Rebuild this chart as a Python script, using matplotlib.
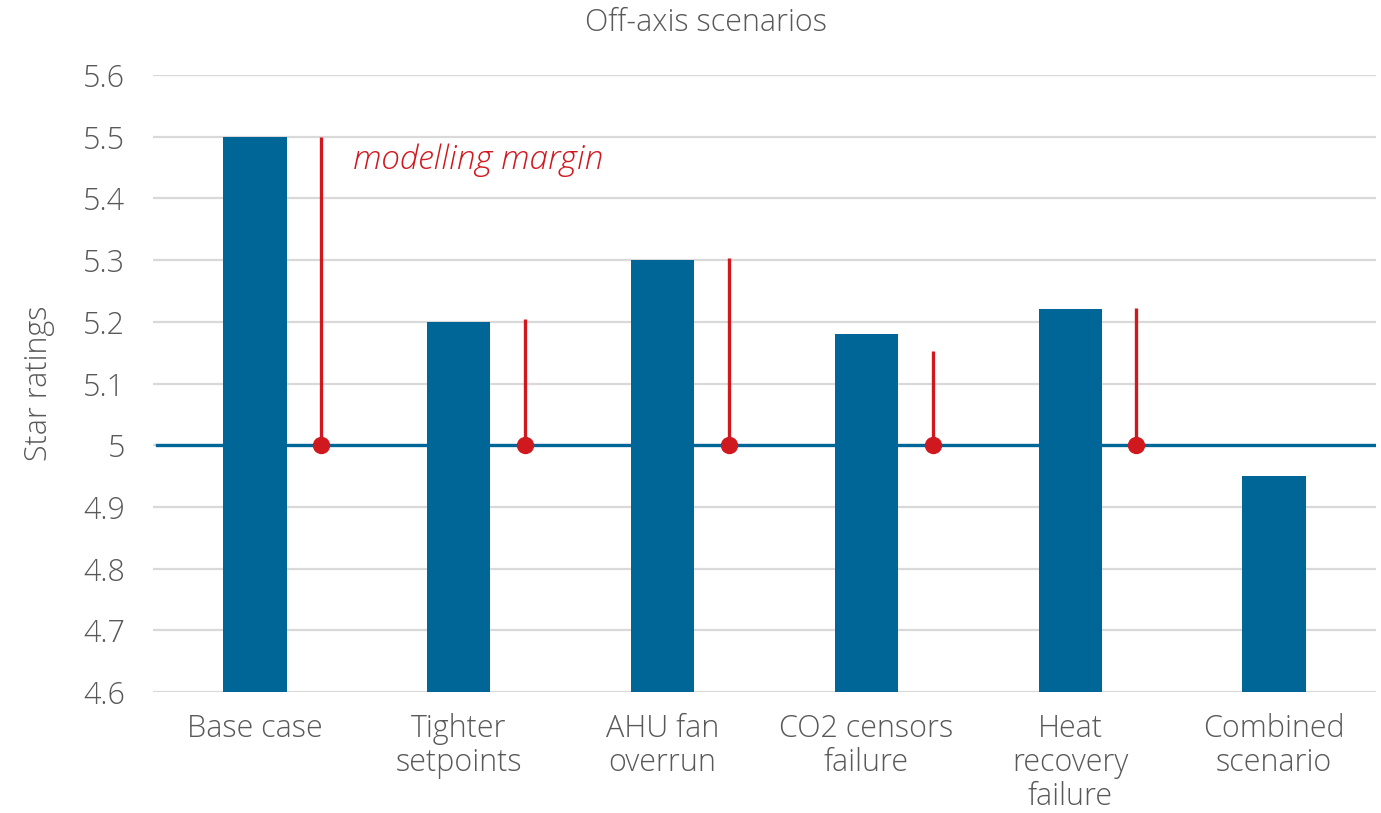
import matplotlib.pyplot as plt
import numpy as np

# Star rating per scenario
categories = ["Base case", "Tighter\nsetpoints", "AHU fan\noverrun", "CO2 censors\nfailure",
              "Heat\nrecovery\nfailure", "Combined\nscenario"]
ratings = [5.5, 5.2, 5.3, 5.18, 5.22, 4.95]
# top of the red "modelling margin" line (none for combined scenario)
margin_tops = [5.5, 5.205, 5.303, 5.152, 5.222]
reference = 5.0
yticks = [4.6, 4.7, 4.8, 4.9, 5.0, 5.1, 5.2, 5.3, 5.4, 5.5, 5.6]
ytick_labels = ["4.6", "4.7", "4.8", "4.9", "5", "5.1", "5.2", "5.3", "5.4", "5.5", "5.6"]

BLUE = "#006597"
RED = "#d0191f"
GREY = "#595959"
FS = 22

plt.rcParams['font.family'] = ['Open Sans', 'DejaVu Sans']
plt.rcParams['font.weight'] = 'light'
plt.rcParams['axes.labelweight'] = 'light'

fig = plt.figure(figsize=(13.81, 8.13), dpi=100)
ax = fig.add_axes([153/1381, 121/813, 1223/1381, 617/813])

x = np.arange(len(categories))
ax.bar(x, np.array(ratings) - 4.6, bottom=4.6, width=0.31, color=BLUE, zorder=3)

ax.axhline(reference, xmin=0.003, xmax=1, color=BLUE, lw=2.4, zorder=4)

mx = np.arange(len(margin_tops)) + 0.325
ax.vlines(mx, reference, margin_tops, color=RED, lw=2.4, zorder=5)
ax.plot(mx, [reference]*len(mx), 'o', color=RED, ms=11.5, zorder=6)

ax.text(0.48, 5.462, "modelling margin", color=RED, fontsize=24, style='italic',
        fontweight='light', va='center', ha='left')

ax.set_xlim(-0.5, len(categories) - 0.5)
ax.set_ylim(4.6, 5.6)
ax.set_yticks(yticks)
ax.set_yticklabels(ytick_labels)
ax.set_xticks(x)
ax.set_xticklabels(categories, linespacing=1.08)
ax.yaxis.grid(True, color="#d9d9d9", lw=1.6, zorder=0)
ax.set_axisbelow(True)
for s in ax.spines.values():
    s.set_visible(False)
ax.tick_params(axis='both', length=0, labelsize=FS, labelcolor=GREY)
ax.tick_params(axis='x', pad=15)
ax.tick_params(axis='y', pad=20)

ax.set_ylabel("Star ratings", fontsize=FS, color=GREY, fontweight='light', labelpad=20)
fig.text(706/1381, 1 - 23/813, "Off-axis scenarios", fontsize=FS, color=GREY,
         fontweight='light', ha='center', va='center')

fig.savefig("out.png", dpi=100)
